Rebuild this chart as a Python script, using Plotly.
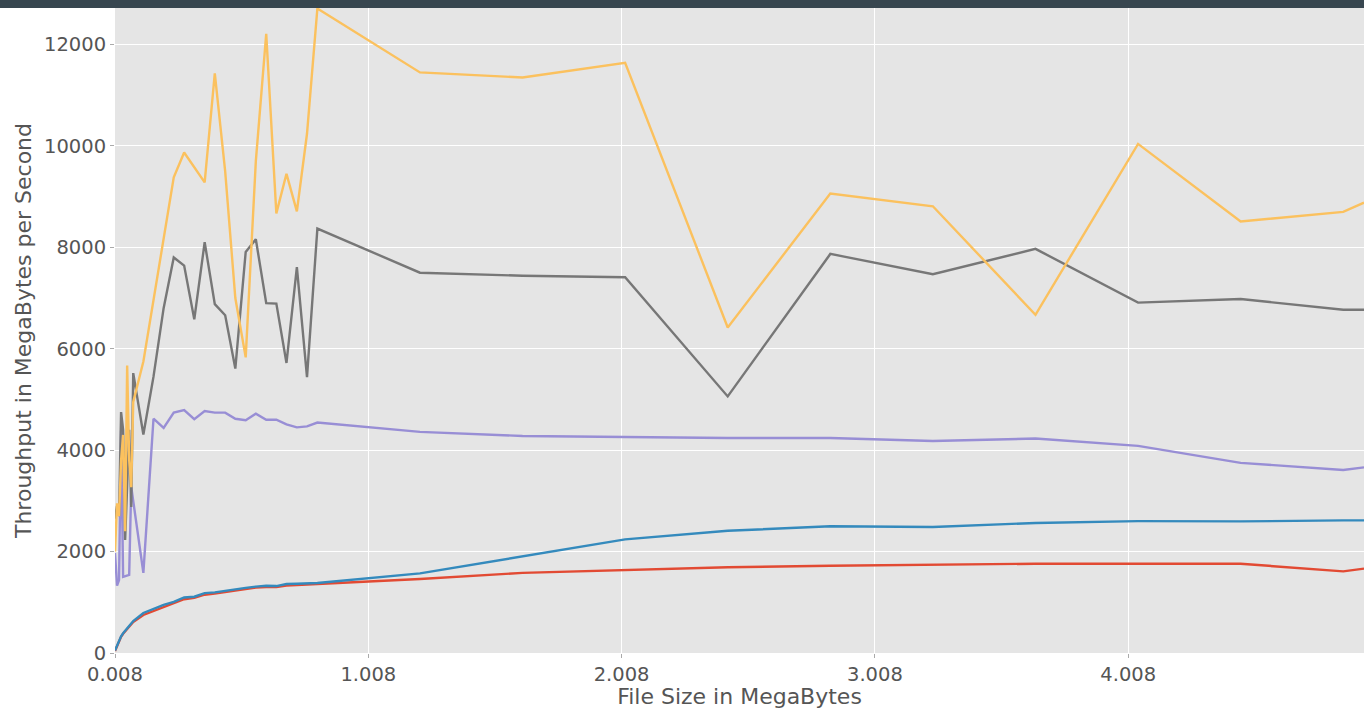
import plotly.graph_objects as go

# File sizes (MB) at which throughput was measured
file_size_mb = [
    0.008, 0.016, 0.024, 0.032, 0.040, 0.048, 0.056, 0.064, 0.072, 0.080,
    0.120, 0.160, 0.200, 0.240, 0.281, 0.321, 0.362, 0.402, 0.443, 0.483,
    0.524, 0.564, 0.605, 0.645, 0.685, 0.726, 0.766, 0.807,
    1.212, 1.617, 2.022, 2.427, 2.832, 3.237, 3.642, 4.047, 4.452, 4.857, 4.939,
]

# Throughput (MB/s) for each configuration
series_red = [
    40, 140, 240, 320, 380, 430, 480, 520, 565, 610,
    750, 830, 910, 990, 1060, 1090, 1150, 1170, 1200, 1230,
    1250, 1290, 1300, 1300, 1330, 1340, 1345, 1355,
    1460, 1580, 1640, 1690, 1720, 1740, 1760, 1760, 1760, 1610, 1665,
]
series_blue = [
    50, 150, 250, 330, 390, 440, 490, 530, 580, 630,
    790, 870, 950, 1010, 1095, 1110, 1180, 1195, 1230, 1265,
    1285, 1310, 1325, 1320, 1360, 1365, 1370, 1380,
    1570, 1910, 2240, 2410, 2500, 2485, 2565, 2600, 2595, 2615, 2615,
]
series_purple = [
    1970, 1330, 1440, 4390, 1500, 1510, 1520, 1540, 3280, 3010,
    1580, 4620, 4440, 4740, 4790, 4610, 4770, 4740, 4740, 4620,
    4590, 4720, 4600, 4600, 4510, 4450, 4470, 4545,
    4360, 4280, 4260, 4240, 4240, 4180, 4230, 4085, 3750, 3610, 3660,
]
series_gray = [
    2650, 2900, 2700, 4750, 4400, 2230, 3300, 4400, 2880, 5520,
    4310, 5450, 6800, 7800, 7640, 6580, 8100, 6880, 6660, 5610,
    7910, 8160, 6900, 6890, 5720, 7610, 5440, 8370,
    7500, 7440, 7410, 5060, 7870, 7470, 7970, 6910, 6980, 6770, 6770,
]
series_yellow = [
    2000, 2950, 2700, 3800, 4300, 2400, 5670, 3800, 3270, 4950,
    5750, 6950, 8150, 9380, 9870, 9570, 9280, 11430, 9500, 7000,
    5830, 9700, 12210, 8670, 9450, 8710, 10240, 12710,
    11450, 11350, 11640, 6420, 9060, 8810, 6670, 10040, 8510, 8700, 8880,
]

x_tick_vals = [0.008, 1.008, 2.008, 3.008, 4.008]
x_tick_text = ["0.008", "1.008", "2.008", "3.008", "4.008"]
y_tick_vals = [0, 2000, 4000, 6000, 8000, 10000, 12000]
y_tick_text = ["0", "2000", "4000", "6000", "8000", "10000", "12000"]

traces = [
    (series_red, "#E24A33"),
    (series_blue, "#348ABD"),
    (series_purple, "#988ED5"),
    (series_gray, "#777777"),
    (series_yellow, "#FBC15E"),
]

fig = go.Figure()
for values, color in traces:
    fig.add_trace(go.Scatter(
        x=file_size_mb, y=values, mode="lines",
        line=dict(color=color, width=2.4),
        showlegend=False, hoverinfo="skip",
    ))

font_family = "DejaVu Sans"
fig.update_layout(
    width=1364, height=709,
    margin=dict(l=115, r=0, t=8, b=56),
    paper_bgcolor="white",
    plot_bgcolor="#E5E5E5",
    font=dict(family=font_family, color="#555555"),
    xaxis=dict(
        range=[0.008, 4.939],
        tickmode="array", tickvals=x_tick_vals, ticktext=x_tick_text,
        tickfont=dict(size=19.5, color="#555555"),
        ticks="outside", ticklen=4, tickcolor="#AAAAAA",
        showgrid=True, gridcolor="white", gridwidth=1,
        zeroline=False, showline=False,
        title=dict(text="File Size in MegaBytes", font=dict(size=22, color="#555555"), standoff=4),
        automargin=False,
    ),
    yaxis=dict(
        range=[0, 12720],
        tickmode="array", tickvals=y_tick_vals, ticktext=y_tick_text,
        tickfont=dict(size=19.5, color="#555555"),
        ticks="outside", ticklen=4, tickcolor="#AAAAAA",
        showgrid=True, gridcolor="white", gridwidth=1,
        zeroline=False, showline=False,
        title=dict(text="Throughput in MegaBytes per Second", font=dict(size=22, color="#555555"), standoff=6),
        automargin=False,
    ),
    shapes=[dict(
        type="rect", xref="paper", yref="paper",
        x0=-0.1, x1=1.01,
        ysizemode="pixel", yanchor=1, y0=0, y1=12,
        fillcolor="#37464F", line=dict(width=0), layer="above",
    )],
)

fig.write_html("out.html")
